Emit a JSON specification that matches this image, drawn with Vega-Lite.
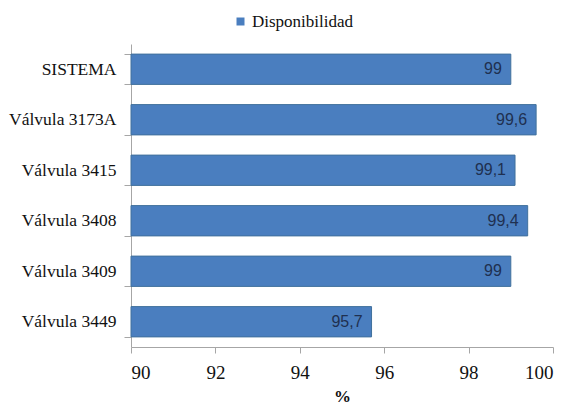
{
  "$schema": "https://vega.github.io/schema/vega-lite/v6.json",
  "width": 422,
  "height": 303,
  "autosize": {"type": "none"},
  "padding": {"left": 131, "top": 44, "right": 14, "bottom": 59},
  "background": "white",
  "config": {
    "view": {"stroke": null},
    "locale": {"number": {"decimal": ",", "thousands": ".", "grouping": [3], "currency": ["", " €"]}},
    "font": "Liberation Serif",
    "axis": {"labelFont": "Liberation Serif", "titleFont": "Liberation Serif"},
    "legend": {"labelFont": "Liberation Serif", "titleFont": "Liberation Serif"}
  },
  "data": {
    "values": [
      {"equipo": "SISTEMA", "valor": 99, "serie": "Disponibilidad"},
      {"equipo": "Válvula 3173A", "valor": 99.6, "serie": "Disponibilidad"},
      {"equipo": "Válvula 3415", "valor": 99.1, "serie": "Disponibilidad"},
      {"equipo": "Válvula 3408", "valor": 99.4, "serie": "Disponibilidad"},
      {"equipo": "Válvula 3409", "valor": 99, "serie": "Disponibilidad"},
      {"equipo": "Válvula 3449", "valor": 95.7, "serie": "Disponibilidad"}
    ]
  },
  "encoding": {
    "y": {
      "field": "equipo", "type": "nominal", "sort": null,
      "scale": {"paddingInner": 0.4, "paddingOuter": 0.2},
      "axis": {
        "title": null, "tickBand": "extent", "domainColor": "#a6a6a6", "tickColor": "#a6a6a6",
        "tickSize": 7, "labelFontSize": 17.5, "labelColor": "#111111", "labelPadding": 8
      }
    },
    "x": {
      "field": "valor", "type": "quantitative",
      "scale": {"domain": [90, 100], "zero": false, "clamp": true},
      "axis": {
        "title": "%", "titleFontSize": 17, "titleFontWeight": "bold", "titleColor": "#111111", "titlePadding": 6,
        "values": [90, 92, 94, 96, 98, 100], "grid": false, "domainColor": "#a6a6a6", "tickColor": "#a6a6a6",
        "tickSize": 6, "labelFontSize": 19, "labelColor": "#111111", "labelPadding": 10
      }
    }
  },
  "layer": [
    {
      "mark": {"type": "bar", "stroke": "#41719c", "strokeWidth": 1},
      "encoding": {
        "color": {
          "field": "serie", "type": "nominal",
          "scale": {"range": ["#4a7ebf"]},
          "legend": {
            "title": null, "orient": "none", "legendX": 101, "legendY": -31,
            "symbolType": "square", "symbolSize": 64, "labelFontSize": 17,
            "labelColor": "#111111", "symbolStrokeWidth": 0, "labelOffset": 3
          }
        }
      }
    },
    {
      "mark": {"type": "text", "align": "right", "dx": -9, "font": "Liberation Sans", "fontSize": 16, "color": "#1f3050"},
      "encoding": {"text": {"field": "valor", "type": "quantitative", "format": ".1~f"}}
    }
  ]
}
